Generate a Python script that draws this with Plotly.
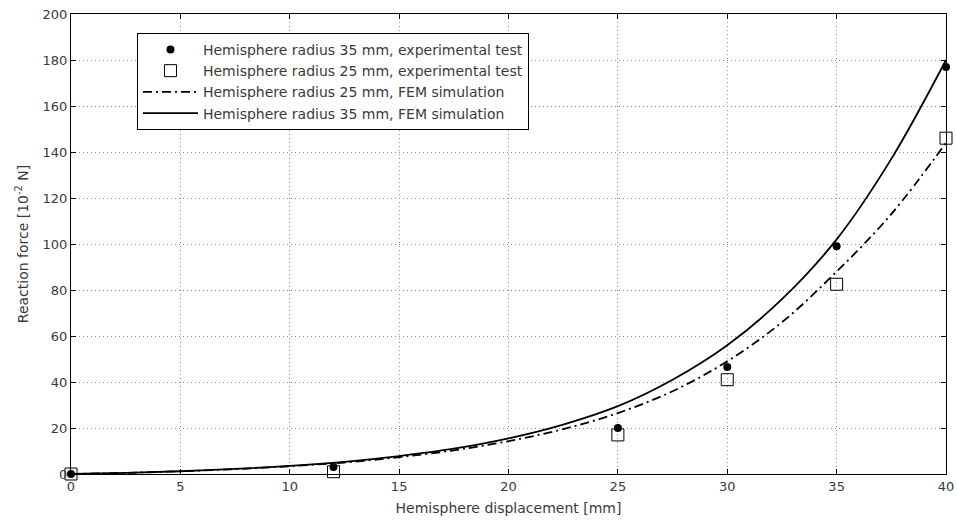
import plotly.graph_objects as go

# Experimental data
exp_x = [0, 12, 25, 30, 35, 40]
exp35_y = [0, 3, 20, 46.5, 99, 177]
exp25_y = [0, 1, 17, 41, 82.5, 146]

# FEM simulations
fem_x = [0, 2.5, 5, 7.5, 10, 12.5, 15, 17.5, 20, 22.5, 25, 27.5, 30, 32.5, 35, 37.5, 40]
fem35_y = [0, 0.5, 1.2, 2.2, 3.5, 5.3, 7.8, 11, 15.5, 21.5, 29.5, 41, 56, 76, 102, 137, 180]
fem25_y = [0, 0.5, 1.2, 2.1, 3.4, 5.0, 7.3, 10.3, 14.3, 19.5, 26.5, 36, 49, 66, 88, 113, 144]

x_ticks = [0, 5, 10, 15, 20, 25, 30, 35, 40]
y_ticks = [0, 20, 40, 60, 80, 100, 120, 140, 160, 180, 200]

fig = go.Figure()
fig.add_trace(go.Scatter(x=exp_x, y=exp35_y, mode="markers", cliponaxis=False,
                         name="Hemisphere radius 35 mm, experimental test",
                         marker=dict(symbol="circle", size=8, color="black")))
fig.add_trace(go.Scatter(x=exp_x, y=exp25_y, mode="markers", cliponaxis=False,
                         name="Hemisphere radius 25 mm, experimental test",
                         marker=dict(symbol="square-open", size=12, color="black",
                                     line=dict(width=1))))
fig.add_trace(go.Scatter(x=fem_x, y=fem25_y, mode="lines", line_shape="spline",
                         name="Hemisphere radius 25 mm, FEM simulation",
                         line=dict(color="black", width=1.8, dash="9px,4px,2px,4px")))
fig.add_trace(go.Scatter(x=fem_x, y=fem35_y, mode="lines", line_shape="spline",
                         name="Hemisphere radius 35 mm, FEM simulation",
                         line=dict(color="black", width=1.8)))

axis_common = dict(showline=True, linecolor="black", linewidth=1, mirror="ticks",
                   ticks="inside", ticklen=5, tickcolor="black",
                   showgrid=True, gridcolor="#8c8c8c", griddash="1px,3px", gridwidth=1,
                   zeroline=False, automargin=False,
                   tickfont=dict(size=13, color="#3a3a3a"))

fig.update_layout(
    width=957, height=521,
    margin=dict(l=71, r=11, t=14, b=47),
    paper_bgcolor="white", plot_bgcolor="white",
    font=dict(family="DejaVu Sans, sans-serif", size=13, color="#3a3a3a"),
    xaxis=dict(range=[0, 40], tickvals=x_ticks,
               title=dict(text="Hemisphere displacement [mm]", standoff=10,
                          font=dict(size=14)), **axis_common),
    yaxis=dict(range=[0, 200], tickvals=y_ticks,
               title=dict(text="Reaction force [10<sup>-2</sup> N]", standoff=10,
                          font=dict(size=14)), **axis_common),
    legend=dict(x=0.0754, y=0.959, xanchor="left", yanchor="top",
                bgcolor="white", bordercolor="black", borderwidth=1,
                font=dict(size=14, color="#3a3a3a"), tracegroupgap=0,
                itemwidth=55),
    showlegend=True,
)

fig.write_html(
    "out.html",
    config={"displayModeBar": False},
    post_script="document.body.style.margin='0';document.body.style.overflow='hidden';",
)
